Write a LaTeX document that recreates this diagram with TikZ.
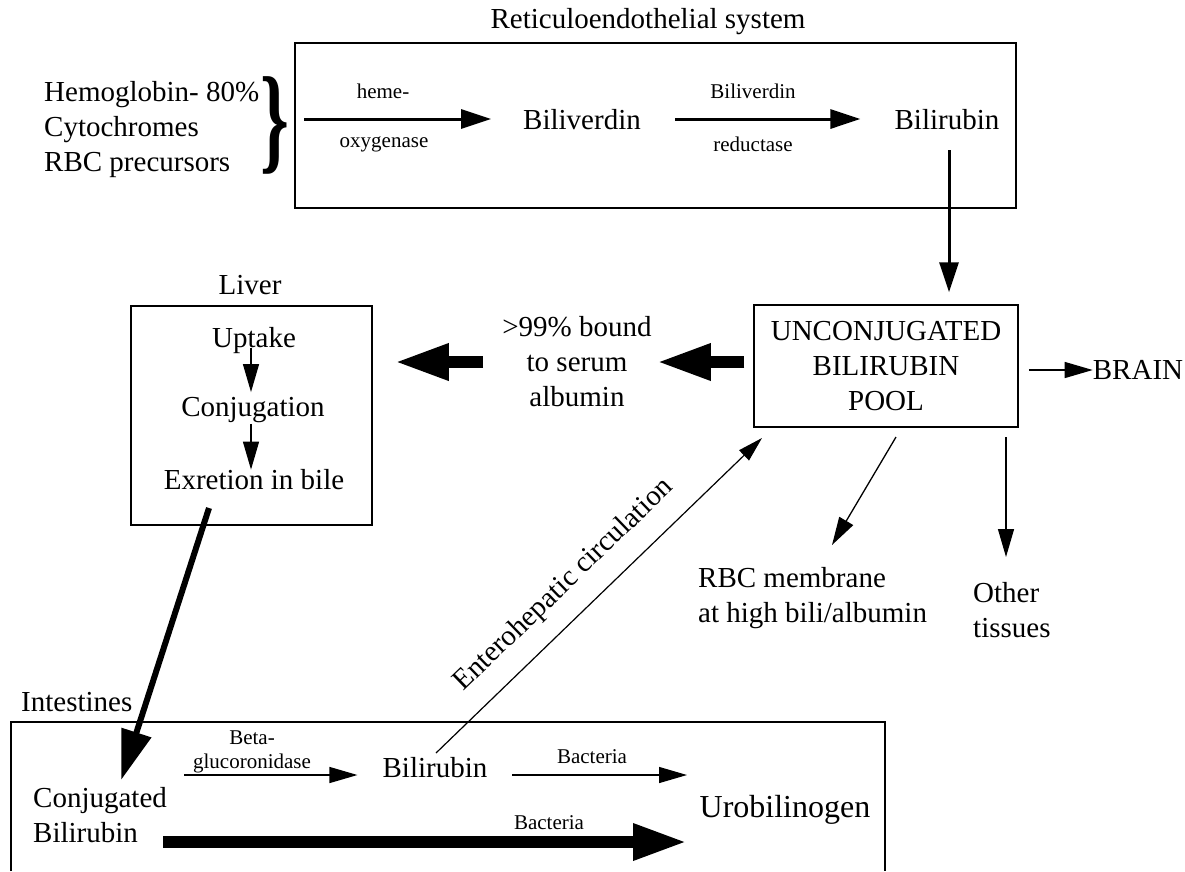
\documentclass[tikz,border=0pt]{standalone}
\usepackage{fontspec}
\setmainfont{Liberation Serif}
\usetikzlibrary{arrows.meta}
\newcommand{\mainsize}{\fontsize{29}{35}\selectfont}
\newcommand{\smallsize}{\fontsize{21}{25}\selectfont}

\begin{document}
\begin{tikzpicture}[
	x=1pt,y=-1pt,
	every node/.style={inner sep=0pt,font=\mainsize},
	lbl/.style={font=\smallsize},
	organ/.style={draw,line width=1.5pt},
	thinarrow/.style={line width=1.3pt,-{Triangle[length=28pt,width=16pt]}},
	medarrow/.style={line width=3pt,-{Triangle[length=30pt,width=19pt]}},
	bigarrow/.style={line width=6pt,-{Triangle[length=50pt,width=30pt]}},
	fatarrow/.style={line width=12pt,-{Triangle[length=54pt,width=34pt]}},
]
	\useasboundingbox (0,0) rectangle (1185,871);
	% reticuloendothelial system
	\node (restitle) at (648,22) {Reticuloendothelial system};
	\node[organ,minimum width=721pt,minimum height=165pt] (res) at (655.5,125.5) {};
	\node[anchor=west,align=left] (sources) at (44,130) {Hemoglobin- 80\%\\Cytochromes\\RBC precursors};
	\node[xscale=0.62,font=\fontsize{118}{118}\selectfont\bfseries] (brace) at (275,125) {\}};
	\node (biliv) at (582,120) {Biliverdin};
	\node (bilir) at (947,120) {Bilirubin};
	\node[lbl] (hemeup) at (383,91) {heme-};
	\node[lbl] (hemedn) at (384,144) {oxygenase};
	\node[lbl] (redup) at (753,91) {Biliverdin};
	\node[lbl] (reddn) at (753,144) {reductase};
	\coordinate (hemein) at (304,119);
	\draw[medarrow] (hemein) -- ([xshift=-32pt]biliv.west |- hemein);
	\draw[medarrow] ([xshift=34pt]biliv.east |- hemein) -- ([xshift=-34pt]bilir.west |- hemein);
	% pool
	\node[organ,minimum width=264pt,minimum height=122pt,align=center] (pool) at (886,366) {UNCONJUGATED\\BILIRUBIN\\POOL};
	\draw[medarrow] ([xshift=2pt,yshift=-20pt]bilir.south) -- ([xshift=2pt,yshift=12pt]bilir.south |- pool.north);
	\node[align=center] (albumin) at (577,362) {>99\% bound\\to serum\\albumin};
	\node (brain) at (1138,370) {BRAIN};
	\draw[thinarrow] ([xshift=10pt]pool.east |- brain.west) -- (brain.west);
	\node[anchor=west,align=left] (rbc) at (698,598) {RBC membrane\\at high bili/albumin};
	\node[anchor=west,align=left] (other) at (973,610) {Other\\tissues};
	\coordinate (rbcout) at (896,437);
	\coordinate (rbcin) at (832,545);
	\draw[thinarrow] (rbcout) -- (rbcin);
	\coordinate (otherout) at (1006,437);
	\coordinate (otherin) at (1006,557);
	\draw[thinarrow] (otherout) -- (otherin);
	% liver
	\node (liverlbl) at (250,285) {Liver};
	\node[organ,minimum width=241pt,minimum height=219pt] (liver) at (251.5,415.5) {};
	\node (uptake) at (254,341) {Uptake};
	\node (conj) at (253,410) {Conjugation};
	\node (excr) at (254,480) {Exretion in bile};
	\draw[thinarrow] ([xshift=-3pt,yshift=-7pt]uptake.center) -- ([xshift=-2pt,yshift=5pt]conj.north);
	\draw[thinarrow] ([xshift=-2pt,yshift=-1pt]conj.south) -- ([xshift=-3pt]excr.north);
	\draw[fatarrow] ([xshift=-9pt]pool.west |- albumin.east) -- ([xshift=5pt]albumin.east);
	\draw[fatarrow] ([xshift=-19pt]albumin.west) -- ([xshift=22pt]liver.east |- albumin.west);
	% intestines
	\node[anchor=west] (intlbl) at (21,702) {Intestines};
	\draw[organ] (11,871) -- (11,722) -- (885,722) -- (885,871);
	\node[anchor=west,align=left] (conjbil) at (33,815) {Conjugated\\Bilirubin};
	\node[lbl] (betaup) at (252,738) {Beta-};
	\node[lbl] (betadn) at (252,763) {glucoronidase};
	\node (bilint) at (435,768) {Bilirubin};
	\node[lbl] (bacup) at (592,757) {Bacteria};
	\node[lbl] (bacdn) at (549,823) {Bacteria};
	\node[font=\fontsize{32}{38}\selectfont] (urob) at (785,810) {Urobilinogen};
	\coordinate (liverout) at (209,508);
	\draw[bigarrow] (liverout) -- ([xshift=21pt,yshift=7pt]conjbil.north);
	\coordinate (betain) at (184,775);
	\draw[thinarrow] (betain) -- ([xshift=-25pt]bilint.west |- betain);
	\coordinate (bacin) at (512,775);
	\coordinate (bacout) at (687,775);
	\draw[thinarrow] (bacin) -- (bacout);
	\coordinate (fatin) at (163,842);
	\coordinate (fatout) at (687,842);
	\draw[fatarrow] (fatin) -- (fatout);
	\coordinate (entin) at (436,753);
	\coordinate (entout) at (762,438);
	\draw[line width=1.2pt,-{Triangle[length=25pt,width=14pt]}] (entin) -- node[sloped,above=18pt,pos=0.46] {Enterohepatic circulation} (entout);
\end{tikzpicture}
\end{document}
